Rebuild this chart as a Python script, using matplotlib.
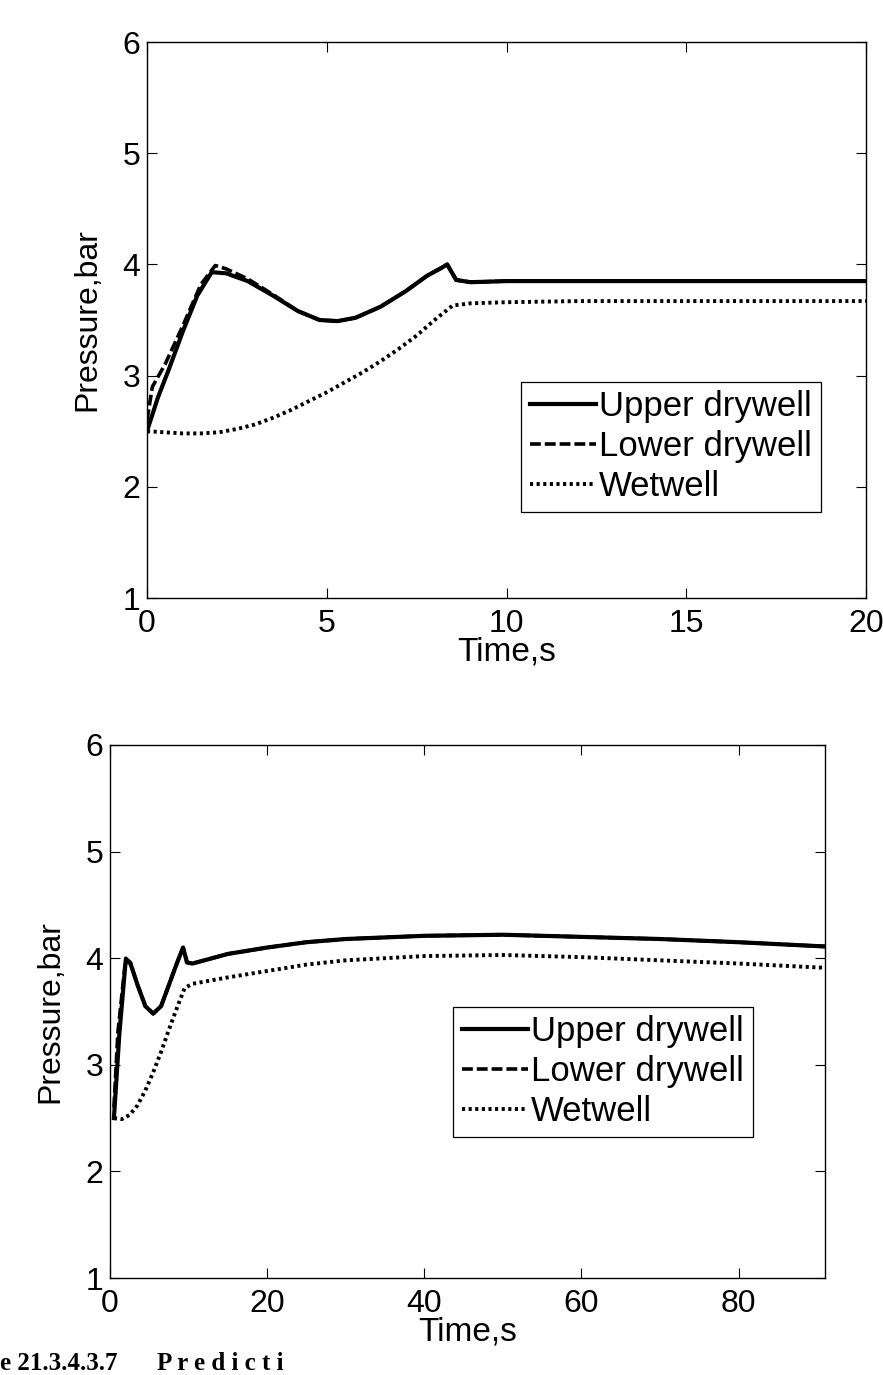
import matplotlib
matplotlib.use("Agg")
import matplotlib.pyplot as plt
import numpy as np

plt.rcParams['font.family'] = ['Liberation Sans', 'DejaVu Sans']

# ---------------- data ----------------
series_names = ["Upper drywell", "Lower drywell", "Wetwell"]

# top panel: 0-20 s
t1_upper = [0.0, 0.3, 0.6, 1.0, 1.4, 1.8, 2.2, 2.8, 3.5, 4.2, 4.8, 5.3, 5.8, 6.5, 7.2, 7.8, 8.2, 8.35, 8.6, 9.0, 10.0, 12.0, 15.0, 18.0, 20.0]
p1_upper = [2.50, 2.80, 3.05, 3.40, 3.72, 3.93, 3.92, 3.85, 3.72, 3.58, 3.50, 3.49, 3.52, 3.62, 3.76, 3.90, 3.97, 4.00, 3.86, 3.84, 3.85, 3.85, 3.85, 3.85, 3.85]
t1_lower = [0.0, 0.15, 0.5, 1.0, 1.5, 1.9, 2.2, 2.8, 3.5, 4.2, 4.8, 5.3, 5.8, 6.5, 7.2, 7.8, 8.2, 8.35, 8.6, 9.0, 10.0, 12.0, 15.0, 18.0, 20.0]
p1_lower = [2.60, 2.90, 3.10, 3.45, 3.82, 3.99, 3.96, 3.87, 3.73, 3.58, 3.50, 3.49, 3.52, 3.62, 3.76, 3.90, 3.97, 4.00, 3.86, 3.84, 3.85, 3.85, 3.85, 3.85, 3.85]
t1_wet = [0.0, 0.5, 1.0, 1.5, 2.0, 2.5, 3.0, 3.5, 4.0, 4.5, 5.0, 5.5, 6.0, 6.5, 7.0, 7.5, 8.0, 8.5, 9.0, 10.0, 12.0, 15.0, 18.0, 20.0]
p1_wet = [2.50, 2.49, 2.48, 2.48, 2.49, 2.52, 2.56, 2.62, 2.69, 2.77, 2.85, 2.94, 3.03, 3.13, 3.24, 3.36, 3.50, 3.63, 3.65, 3.66, 3.67, 3.67, 3.67, 3.67]

# bottom panel: 0-91 s
t2_upper = [0.5, 1.2, 2.0, 2.6, 3.5, 4.5, 5.5, 6.5, 7.5, 8.5, 9.3, 9.8, 10.5, 12.0, 15.0, 20.0, 25.0, 30.0, 40.0, 50.0, 60.0, 70.0, 80.0, 91.0]
p2_upper = [2.50, 3.30, 3.98, 3.95, 3.75, 3.55, 3.48, 3.55, 3.75, 3.95, 4.10, 3.96, 3.95, 3.98, 4.04, 4.10, 4.15, 4.18, 4.21, 4.22, 4.20, 4.18, 4.15, 4.11]
t2_lower = [0.5, 1.0, 2.0, 2.6, 3.5, 4.5, 5.5, 6.5, 7.5, 8.5, 9.3, 9.8, 10.5, 12.0, 15.0, 20.0, 25.0, 30.0, 40.0, 50.0, 60.0, 70.0, 80.0, 91.0]
p2_lower = [2.60, 3.30, 4.00, 3.96, 3.75, 3.55, 3.48, 3.55, 3.75, 3.95, 4.10, 3.96, 3.95, 3.98, 4.04, 4.10, 4.15, 4.18, 4.21, 4.22, 4.20, 4.18, 4.15, 4.11]
t2_wet = [0.5, 1.5, 2.5, 3.5, 4.5, 5.5, 6.5, 7.5, 8.5, 9.5, 10.5, 12.0, 15.0, 20.0, 25.0, 30.0, 40.0, 50.0, 60.0, 70.0, 80.0, 91.0]
p2_wet = [2.50, 2.49, 2.53, 2.62, 2.76, 2.93, 3.12, 3.33, 3.53, 3.72, 3.76, 3.78, 3.82, 3.88, 3.94, 3.98, 4.02, 4.03, 4.01, 3.98, 3.95, 3.91]

x1_ticks = [0, 5, 10, 15, 20]
x2_ticks = [0, 20, 40, 60, 80]
y_ticks = [1, 2, 3, 4, 5, 6]

caption_num = "e 21.3.4.3.7"
caption_word = "P r e d i c t i"

# ---------------- figure ----------------
W, H = 883, 1375
fig = plt.figure(figsize=(W / 100, H / 100), dpi=100)

def px_axes(l, t, r, b):
    return fig.add_axes([l / W, 1 - b / H, (r - l) / W, (b - t) / H])

ax1 = px_axes(147, 42, 866, 598)
ax2 = px_axes(110, 745, 825, 1278)

styles = [dict(ls='-', lw=3.0), dict(ls=(0, (3.0, 1.1)), lw=2.6), dict(ls=(0, (0.8, 0.9)), lw=2.8)]

def draw(ax, data, xlim, xticks, legend_box, ylabelpad):
    handles = []
    for (t, p), st, name in zip(data, styles, series_names):
        h, = ax.plot(t, p, color='black', label=name, **st)
        handles.append(h)
    ax.set_xlim(*xlim)
    ax.set_ylim(1, 6)
    ax.set_xticks(xticks)
    ax.set_yticks(y_ticks)
    ax.tick_params(direction='in', length=7, width=0.8, top=True, right=True,
                   labelsize=23, colors='black')
    ax.tick_params(axis='x', pad=8)
    ax.tick_params(axis='y', pad=5)
    for s in ax.spines.values():
        s.set_linewidth(1.0)
    ax.set_xlabel("Time,s", fontsize=24, labelpad=-2)
    ax.set_ylabel("Pressure,bar", fontsize=23, labelpad=ylabelpad)
    leg = ax.legend(handles=handles, loc='lower left', bbox_to_anchor=legend_box,
                    fontsize=25, frameon=True, fancybox=False, edgecolor='black',
                    framealpha=1, handlelength=1.9, handletextpad=0.1,
                    borderpad=0.25, labelspacing=0.2, borderaxespad=0)
    leg.get_frame().set_linewidth(0.9)

draw(ax1, [(t1_upper, p1_upper), (t1_lower, p1_lower), (t1_wet, p1_wet)],
     (0, 20), x1_ticks, (0.52, 0.155), 14)
draw(ax2, [(t2_upper, p2_upper), (t2_lower, p2_lower), (t2_wet, p2_wet)],
     (0, 91), x2_ticks, (0.48, 0.265), 14)

fig.text(0.0, 1 - 1352 / H, caption_num, fontsize=18, fontweight='bold',
         family=['Liberation Serif', 'DejaVu Serif'], va='top', ha='left')
fig.text(157 / W, 1 - 1352 / H, caption_word, fontsize=18, fontweight='bold',
         family=['Liberation Serif', 'DejaVu Serif'], va='top', ha='left')

fig.savefig("out.png", dpi=100, facecolor='white')
